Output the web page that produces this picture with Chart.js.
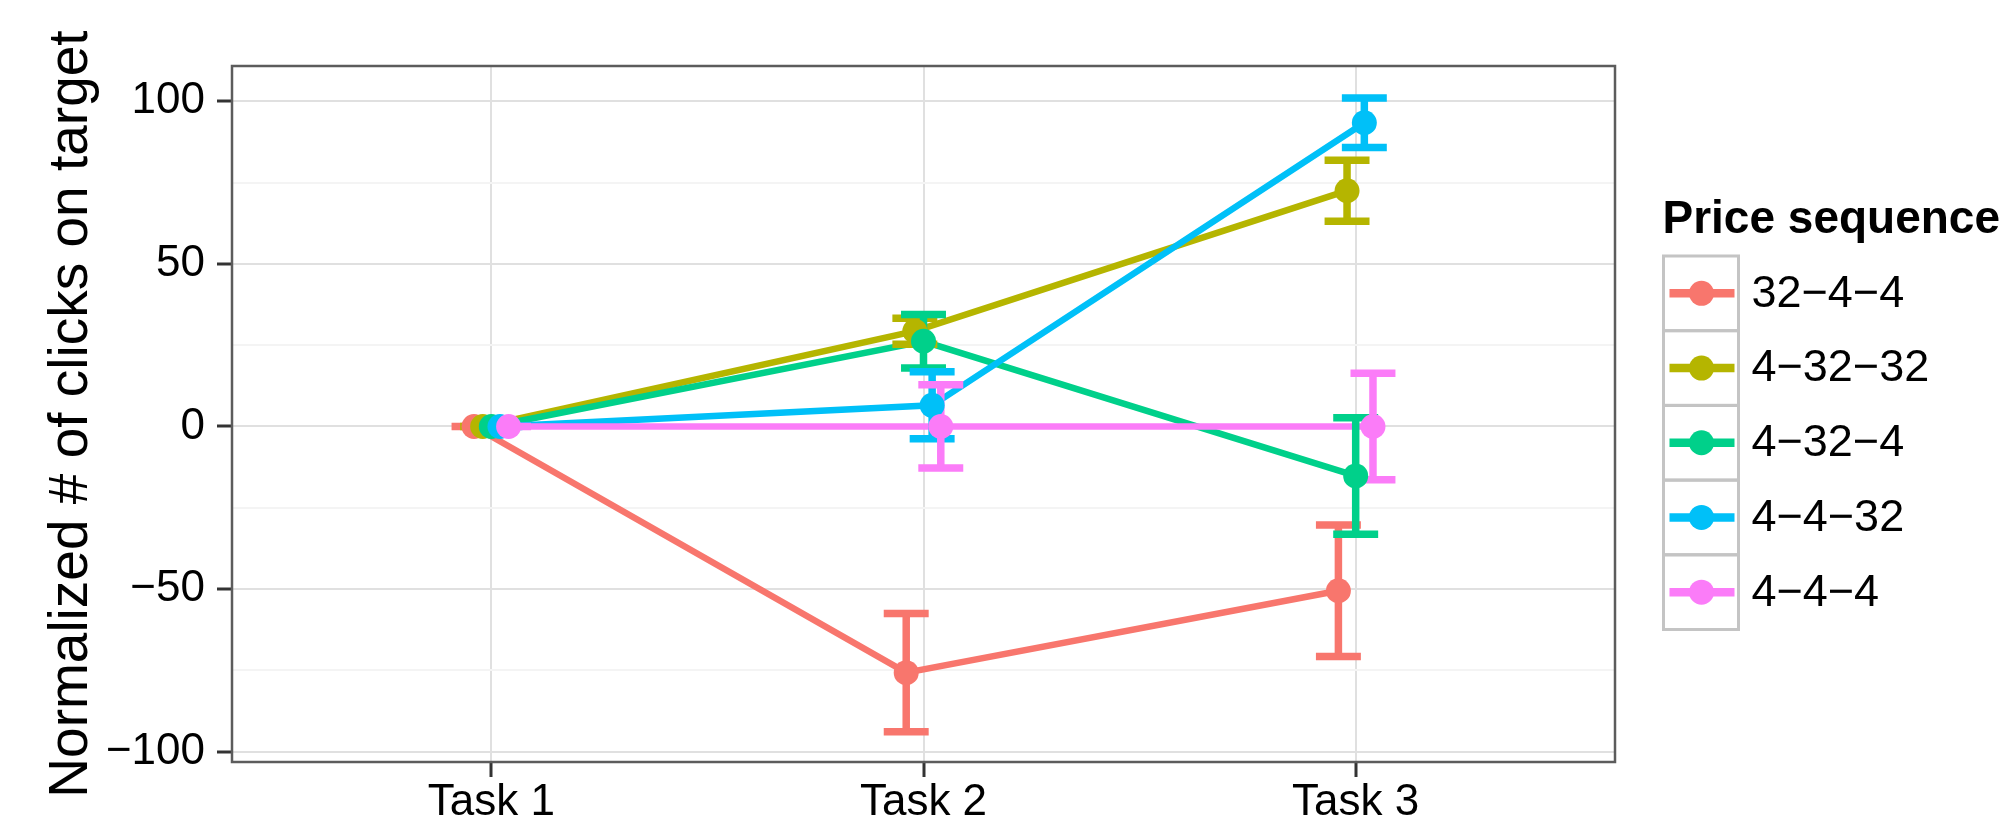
<!DOCTYPE html>
<html>
<head>
<meta charset="utf-8">
<script src="https://cdn.jsdelivr.net/npm/chart.js@4.4.1/dist/chart.umd.min.js"></script>
<style>
  body { margin: 0; background: #fff; }
</style>
</head>
<body>
<canvas id="myChart" width="2005" height="822"></canvas>
<script>
// values (means and half error bars per task)
var tasks = ['Task 1', 'Task 2', 'Task 3'];
var sequences = ['32\u22124\u22124', '4\u221232\u221232', '4\u221232\u22124', '4\u22124\u221232', '4\u22124\u22124'];
var colors = ['#F8766D', '#B5B500', '#00D08A', '#00C0F8', '#FB7CF8'];

var mean_32_4_4  = [0, -75.7, -50.5];
var mean_4_32_32 = [0, 29.3, 72.5];
var mean_4_32_4  = [0, 26.2, -15.2];
var mean_4_4_32  = [0, 6.5, 93.4];
var mean_4_4_4   = [0, 0, 0];

var err_32_4_4  = [0, 18.2, 20.2];
var err_4_32_32 = [0, 4.0, 9.4];
var err_4_32_4  = [0, 8.2, 17.9];
var err_4_4_32  = [0, 10.3, 7.6];
var err_4_4_4   = [0, 12.8, 16.4];

var yTicks = [-100, -75, -50, -25, 0, 25, 50, 75, 100];

var means = [mean_32_4_4, mean_4_32_32, mean_4_32_4, mean_4_4_32, mean_4_4_4];
var errs = [err_32_4_4, err_4_32_32, err_4_32_4, err_4_4_32, err_4_4_4];

var capHalf = 0.052;
var lineSets = [], barSets = [], pointSets = [];

// ggplot draws all lines, then all error bars, then all points;
// in chart.js a lower "order" ends up on top
sequences.forEach(function (name, i) {
  var shift = (i - 2) * 0.02;
  var pts = means[i].map(function (m, j) { return {x: j + 1 + shift, y: m}; });
  var bars = [];
  means[i].forEach(function (m, j) {
    var x = j + 1 + shift;
    var lo = m - errs[i][j], hi = m + errs[i][j];
    bars.push({x: x, y: lo}, {x: x, y: hi}, {x: x, y: null},
              {x: x - capHalf, y: hi}, {x: x + capHalf, y: hi}, {x: x, y: null},
              {x: x - capHalf, y: lo}, {x: x + capHalf, y: lo}, {x: x, y: null});
  });
  lineSets.push({label: name, data: pts, borderColor: colors[i], borderWidth: 6.5,
                 pointRadius: 0, tension: 0, order: 24 - i});
  barSets.push({data: bars, borderColor: colors[i], borderWidth: 7.5, pointRadius: 0,
                spanGaps: false, order: 14 - i});
  pointSets.push({data: pts, showLine: false, pointRadius: 12.5, pointBorderWidth: 0,
                  pointBackgroundColor: colors[i], pointBorderColor: colors[i], order: 4 - i});
});

var FONT = '"Liberation Sans", Arial, sans-serif';
Chart.defaults.font.family = FONT;
Chart.defaults.color = '#000';

// legend box in the ggplot style + the panel border
var ggLegend = {
  id: 'ggLegend',
  afterDraw: function (chart) {
    var c = chart.ctx, area = chart.chartArea;
    var left = area.right + 48.5, top = 256, keyW = 75, keyH = 74.7;
    c.save();
    c.strokeStyle = '#5c5c5c';
    c.lineWidth = 2.5;
    c.strokeRect(area.left, area.top, area.right - area.left, area.bottom - area.top);

    c.fillStyle = '#000';
    c.font = 'bold 46px ' + FONT;
    c.textBaseline = 'alphabetic';
    c.fillText('Price sequence', left - 1, 233);

    sequences.forEach(function (name, i) {
      var y = top + i * keyH, cy = y + keyH / 2;
      c.strokeStyle = '#c4c4c4';
      c.lineWidth = 3;
      c.strokeRect(left, y, keyW, keyH);
      c.strokeStyle = colors[i];
      c.lineWidth = 8.5;
      c.beginPath();
      c.moveTo(left + 6, cy);
      c.lineTo(left + keyW - 4, cy);
      c.stroke();
      c.fillStyle = colors[i];
      c.beginPath();
      c.arc(left + 38, cy, 12.5, 0, 2 * Math.PI);
      c.fill();
      c.fillStyle = '#000';
      c.font = '45px ' + FONT;
      c.textBaseline = 'middle';
      c.fillText(name, left + 88, cy + 1);
    });
    c.restore();
  }
};

var ctx = document.getElementById('myChart').getContext('2d');
var myChart = new Chart(ctx, {
  type: 'line',
  data: { datasets: lineSets.concat(barSets, pointSets) },
  plugins: [ggLegend],
  options: {
    responsive: false,
    animation: false,
    events: [],
    layout: { padding: { left: 0, right: 390, top: 66, bottom: 0 } },
    plugins: {
      legend: { display: false },
      tooltip: { enabled: false }
    },
    scales: {
      x: {
        type: 'linear',
        min: 0.4,
        max: 3.6,
        bounds: 'data',
        afterBuildTicks: function (axis) {
          axis.ticks = tasks.map(function (t, i) { return {value: i + 1}; });
        },
        afterFit: function (axis) { axis.height = 60; },
        border: { display: false },
        grid: { color: '#e0e0e0', lineWidth: 2, tickColor: '#333', tickLength: 15, tickWidth: 3 },
        ticks: {
          autoSkip: false,
          maxRotation: 0,
          padding: 5,
          font: { size: 44, lineHeight: 0.95 },
          color: '#000',
          callback: function (v) { return tasks[v - 1]; }
        }
      },
      y: {
        min: -103.17,
        max: 110.85,
        bounds: 'data',
        afterBuildTicks: function (axis) {
          axis.ticks = yTicks.map(function (v) { return {value: v}; });
        },
        afterFit: function (axis) { axis.width = 232; },
        border: { display: false },
        grid: {
          lineWidth: 2,
          color: function (c) { return c.tick && c.tick.value % 50 === 0 ? '#e0e0e0' : '#f4f4f4'; },
          tickColor: function (c) { return c.tick && c.tick.value % 50 === 0 ? '#333' : 'rgba(0,0,0,0)'; },
          tickLength: 15,
          tickWidth: 3
        },
        ticks: {
          autoSkip: false,
          padding: 12,
          font: { size: 44 },
          color: '#000',
          callback: function (v) { return v % 50 === 0 ? String(v).replace('-', '\u2212') : ''; }
        },
        title: {
          display: true,
          text: 'Normalized # of clicks on target',
          color: '#000',
          font: { size: 55, lineHeight: 1 },
          padding: { top: 44, bottom: 10 }
        }
      }
    }
  }
});
</script>
</body>
</html>
